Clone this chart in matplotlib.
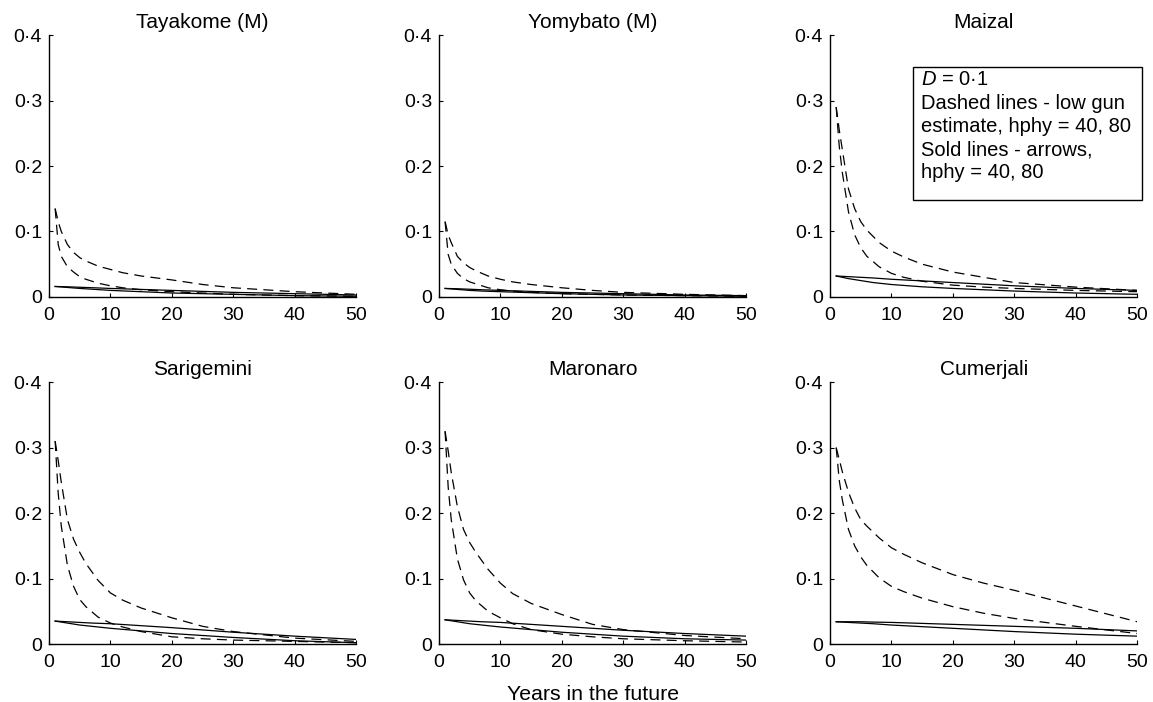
import matplotlib
matplotlib.use('Agg')
import matplotlib.pyplot as plt
from matplotlib.patches import Rectangle
from matplotlib.ticker import FuncFormatter

plt.rcParams['font.family'] = ['Liberation Sans', 'DejaVu Sans']
plt.rcParams['mathtext.fontset'] = 'custom'
plt.rcParams['mathtext.it'] = 'Liberation Sans:italic'
plt.rcParams['mathtext.rm'] = 'Liberation Sans'

years_d = [1, 1.5, 2, 3, 4, 5, 6, 8, 10, 12, 15, 20, 25, 30, 40, 50]
years_s = [1, 3, 5, 7, 10, 15, 20, 30, 40, 50]

sites = ['Tayakome (M)', 'Yomybato (M)', 'Maizal',
         'Sarigemini', 'Maronaro', 'Cumerjali']

# dashed: low gun estimate, hphy = 40 / 80
dash_hi = [
    [0.135, 0.115, 0.100, 0.080, 0.068, 0.060, 0.055, 0.047, 0.042, 0.037, 0.032, 0.026, 0.019, 0.014, 0.008, 0.004],
    [0.115, 0.095, 0.083, 0.062, 0.052, 0.045, 0.040, 0.032, 0.027, 0.023, 0.019, 0.014, 0.010, 0.007, 0.004, 0.002],
    [0.290, 0.255, 0.225, 0.165, 0.135, 0.115, 0.102, 0.083, 0.070, 0.061, 0.050, 0.038, 0.030, 0.022, 0.015, 0.010],
    [0.310, 0.280, 0.247, 0.190, 0.160, 0.140, 0.123, 0.097, 0.078, 0.067, 0.055, 0.040, 0.027, 0.019, 0.009, 0.004],
    [0.325, 0.295, 0.262, 0.210, 0.175, 0.155, 0.140, 0.114, 0.093, 0.077, 0.062, 0.045, 0.030, 0.022, 0.013, 0.008],
    [0.300, 0.282, 0.263, 0.232, 0.208, 0.190, 0.180, 0.162, 0.147, 0.137, 0.124, 0.106, 0.093, 0.082, 0.058, 0.034],
]
dash_lo = [
    [0.135, 0.080, 0.062, 0.046, 0.038, 0.031, 0.027, 0.021, 0.017, 0.014, 0.011, 0.008, 0.006, 0.004, 0.002, 0.001],
    [0.115, 0.065, 0.050, 0.036, 0.028, 0.023, 0.020, 0.014, 0.011, 0.009, 0.007, 0.005, 0.004, 0.003, 0.002, 0.001],
    [0.290, 0.230, 0.190, 0.130, 0.095, 0.075, 0.062, 0.046, 0.036, 0.030, 0.024, 0.018, 0.015, 0.013, 0.010, 0.008],
    [0.310, 0.230, 0.180, 0.120, 0.088, 0.068, 0.057, 0.041, 0.032, 0.026, 0.019, 0.011, 0.008, 0.006, 0.004, 0.002],
    [0.325, 0.240, 0.190, 0.130, 0.098, 0.078, 0.066, 0.050, 0.040, 0.031, 0.022, 0.015, 0.011, 0.008, 0.005, 0.003],
    [0.300, 0.250, 0.220, 0.175, 0.150, 0.133, 0.120, 0.101, 0.088, 0.080, 0.070, 0.057, 0.047, 0.039, 0.027, 0.016],
]
# solid: arrows, hphy = 40 / 80
solid_hi = [
    [0.016, 0.0155, 0.0148, 0.0141, 0.013, 0.0115, 0.010, 0.007, 0.005, 0.003],
    [0.013, 0.0125, 0.0118, 0.011, 0.010, 0.0085, 0.007, 0.005, 0.003, 0.002],
    [0.032, 0.031, 0.030, 0.029, 0.027, 0.0245, 0.022, 0.017, 0.013, 0.010],
    [0.035, 0.034, 0.033, 0.032, 0.031, 0.028, 0.025, 0.018, 0.012, 0.007],
    [0.037, 0.036, 0.035, 0.034, 0.033, 0.030, 0.027, 0.021, 0.016, 0.012],
    [0.034, 0.034, 0.034, 0.0335, 0.033, 0.0315, 0.030, 0.027, 0.024, 0.020],
]
solid_lo = [
    [0.016, 0.0145, 0.013, 0.0118, 0.010, 0.008, 0.006, 0.004, 0.002, 0.001],
    [0.013, 0.0115, 0.010, 0.009, 0.008, 0.0065, 0.005, 0.003, 0.002, 0.001],
    [0.032, 0.028, 0.025, 0.022, 0.019, 0.0155, 0.013, 0.009, 0.006, 0.004],
    [0.035, 0.032, 0.029, 0.027, 0.024, 0.020, 0.016, 0.010, 0.005, 0.002],
    [0.037, 0.034, 0.031, 0.029, 0.026, 0.022, 0.018, 0.012, 0.008, 0.006],
    [0.034, 0.033, 0.032, 0.031, 0.029, 0.0265, 0.024, 0.019, 0.015, 0.012],
]

x_ticks = [0, 10, 20, 30, 40, 50]
y_ticks = [0, 0.1, 0.2, 0.3, 0.4]


def fmt_y(v, pos):
    if abs(v) < 1e-9:
        return '0'
    return f'{v:.1f}'.replace('.', '\u00b7')


fig = plt.figure(figsize=(11.53, 7.02), dpi=100)
lefts = [0.0425, 0.3807, 0.7199]
bottoms = [0.577, 0.0826]
w, h = 0.2665, 0.373

dash_style = (0, (8, 5))
axes = []
for i, site in enumerate(sites):
    row, col = divmod(i, 3)
    ax = fig.add_axes([lefts[col], bottoms[row], w, h])
    axes.append(ax)
    ax.plot(years_d, dash_hi[i], color='black', lw=0.9, linestyle=dash_style)
    ax.plot(years_d, dash_lo[i], color='black', lw=0.9, linestyle=dash_style)
    ax.plot(years_s, solid_hi[i], color='black', lw=0.9)
    ax.plot(years_s, solid_lo[i], color='black', lw=0.9)
    ax.set_xlim(0, 50)
    ax.set_ylim(0, 0.4)
    ax.set_xticks(x_ticks)
    ax.set_yticks(y_ticks)
    ax.yaxis.set_major_formatter(FuncFormatter(fmt_y))
    ax.spines['top'].set_visible(False)
    ax.spines['right'].set_visible(False)
    for s in ['left', 'bottom']:
        ax.spines[s].set_linewidth(1.0)
    ax.tick_params(direction='in', length=3, width=0.8, labelsize=14)
    ax.tick_params(axis='x', pad=7)
    ax.tick_params(axis='y', pad=5)
    ax.set_title(site, fontsize=15, pad=5)

axes[4].set_xlabel('Years in the future', fontsize=15.3, labelpad=10)

# note box in the Maizal panel
box_ax = axes[2]
box_ax.add_patch(Rectangle((0.2695, 0.370), 0.7465, 0.508, transform=box_ax.transAxes,
                           facecolor='white', edgecolor='black', linewidth=1.0,
                           clip_on=False, zorder=5))
note = ('$D$ = 0\u00b71\nDashed lines - low gun\nestimate, hphy = 40, 80\n'
        'Sold lines - arrows,\nhphy = 40, 80')
box_ax.text(0.295, 0.865, note, transform=box_ax.transAxes, fontsize=14.5,
            va='top', ha='left', linespacing=1.28, zorder=6)

fig.savefig('out.png', dpi=100)
